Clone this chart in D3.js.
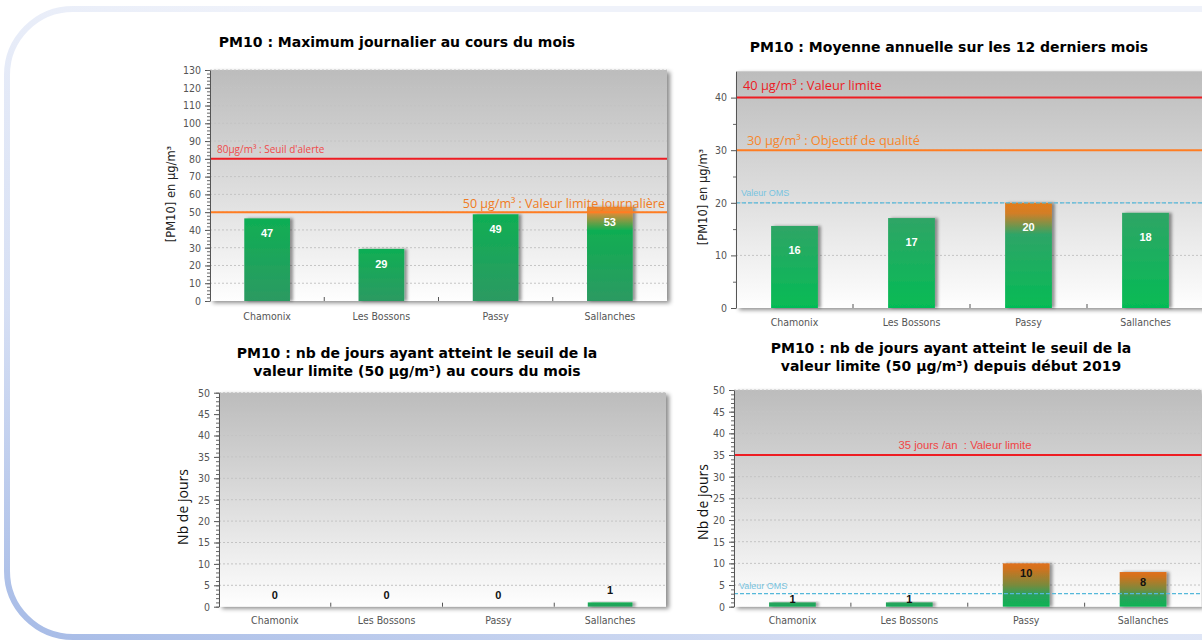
<!DOCTYPE html>
<html><head><meta charset="utf-8">
<script src="https://cdn.jsdelivr.net/npm/d3@7/dist/d3.min.js"></script>
<style>
html,body{margin:0;padding:0;background:#fff;overflow:hidden;}
svg{display:block;}
text{white-space:pre;}
</style></head><body>
<svg id="chart" width="1202" height="641"></svg>
<script>
// ---------------- DATA ----------------
const categories = ["Chamonix", "Les Bossons", "Passy", "Sallanches"];
const maxJournalier = [46.5, 29.3, 48.8, 53];      // µg/m³
const moyenneAnnuelle = [15.6, 17.1, 20, 18.1];    // µg/m³
const joursMois = [0, 0, 0, 1];                    // jours
const joursDepuisDebut = [1, 1, 10, 8];            // jours

const ticksMaxJournalier = d3.range(0, 131, 10);
const ticksMoyenne = [0, 10, 20, 30, 40];
const ticksJours = d3.range(0, 51, 5);

const seuilsMaxValeurs = [80, 50];
const seuilsMaxLabels = ["80µg/m³ : Seuil d'alerte", "50 µg/m³ : Valeur limite journalière"];
const seuilsMoyValeurs = [40, 30, 20];
const seuilsMoyLabels = ["40 µg/m³ : Valeur limite", "30 µg/m³ : Objectif de qualité", "Valeur OMS"];
const seuilsJoursValeurs = [35, 3];
const seuilsJoursLabels = ["35 jours /an  : Valeur limite", "Valeur OMS"];

const titres = [
  ["PM10 : Maximum journalier au cours du mois"],
  ["PM10 : Moyenne annuelle sur les 12 derniers mois"],
  ["PM10 : nb de jours ayant atteint le seuil de la", "valeur limite (50 µg/m³) au cours du mois"],
  ["PM10 : nb de jours ayant atteint le seuil de la", "valeur limite (50 µg/m³) depuis début 2019"]
];
const axeConcentration = "[PM10] en µg/m³";
const axeJours = "Nb de jours";

// ---------------- DRAWING ----------------
const svg = d3.select("#chart");
const defs = svg.append("defs");

function linGrad(id, stops, attrs) {
  const g = defs.append("linearGradient").attr("id", id);
  const a = Object.assign({x1: 0, y1: 0, x2: 0, y2: 1}, attrs || {});
  Object.entries(a).forEach(([k, v]) => g.attr(k, v));
  stops.forEach(([o, c]) => g.append("stop").attr("offset", o).attr("stop-color", c));
}
linGrad("frameGrad", [[0, "#a5bae6"], [0.45, "#d6dff4"], [1, "#eff2fa"]],
  {gradientUnits: "userSpaceOnUse", x1: 0, y1: 641, x2: 250, y2: 0});
linGrad("bgGrad", [[0, "#bcbcbc"], [0.5, "#dcdcdc"], [1, "#fefefe"]]);
linGrad("gA", [[0, "#0fae54"], [1, "#2c9a62"]]);
linGrad("gAx", [[0, "#f0872e"], [0.06, "#e38a36"], [0.25, "#10ad52"], [1, "#2c9a62"]]);
linGrad("gB", [[0, "#2fa566"], [1, "#05bb55"]]);
linGrad("gBx", [[0, "#e47c1c"], [0.1, "#d27e26"], [0.3, "#2ea567"], [1, "#05bb55"]]);
linGrad("gC", [[0, "#14b055"], [1, "#2a9d5e"]]);
linGrad("gD", [[0, "#2ca35e"], [1, "#1aa85a"]]);
linGrad("gDx", [[0, "#e0701a"], [0.12, "#d2721e"], [0.5, "#7a8a3c"], [0.72, "#2aa25c"], [1, "#0db354"]]);

const f1 = defs.append("filter").attr("id", "plotShadow").attr("x", "-5%").attr("y", "-5%").attr("width", "115%").attr("height", "115%");
f1.append("feDropShadow").attr("dx", 3).attr("dy", 2).attr("stdDeviation", 2).attr("flood-color", "#000").attr("flood-opacity", 0.45);
const f2 = defs.append("filter").attr("id", "barShadow").attr("x", "-20%").attr("y", "-10%").attr("width", "160%").attr("height", "130%");
f2.append("feDropShadow").attr("dx", 3).attr("dy", 0).attr("stdDeviation", 1.5).attr("flood-color", "#000").attr("flood-opacity", 0.4);
const f3 = defs.append("filter").attr("id", "axisShadow").attr("x", "-5%").attr("y", "-200%").attr("width", "110%").attr("height", "600%");
f3.append("feDropShadow").attr("dx", 1).attr("dy", 2).attr("stdDeviation", 1.2).attr("flood-color", "#000").attr("flood-opacity", 0.45);

// frame
svg.append("rect").attr("x", 7).attr("y", 9).attr("width", 1500).attr("height", 628).attr("rx", 66)
  .attr("fill", "#fff").attr("stroke", "url(#frameGrad)").attr("stroke-width", 6);

const TICKFONT = "'DejaVu Sans Condensed', 'DejaVu Sans', sans-serif";

function drawChart(o) {
  const g = svg.append("g");
  const x = d3.scaleBand().domain(categories).range([o.x0, o.x1]).paddingInner(0.6).paddingOuter(0.3);
  const y = d3.scaleLinear().domain([0, o.max]).range([o.yBottom, o.yTop]);

  // plot background
  g.append("rect").attr("x", o.x0).attr("y", y(o.max)).attr("width", o.x1 - o.x0)
    .attr("height", y(0) - y(o.max)).attr("fill", "url(#bgGrad)").attr("filter", "url(#plotShadow)");

  // grid
  g.append("g").selectAll("line").data(o.majors.filter(d => d > 0)).join("line")
    .attr("x1", o.x0).attr("x2", o.x1).attr("y1", d => y(d)).attr("y2", d => y(d))
    .attr("stroke", "#c4c4c4").attr("stroke-width", 1).attr("stroke-dasharray", "2,2");

  // bars
  g.append("g").selectAll("rect").data(o.values).join("rect")
    .attr("x", (d, i) => x(categories[i])).attr("width", x.bandwidth())
    .attr("y", d => y(d)).attr("height", d => y(0) - y(d))
    .attr("fill", d => (o.exceed != null && d >= o.exceed) ? `url(#${o.grad}x)` : `url(#${o.grad})`)
    .attr("filter", "url(#barShadow)");

  // reference lines
  o.refs.forEach(r => {
    g.append("line").attr("x1", o.x0).attr("x2", o.x1).attr("y1", y(r.v)).attr("y2", y(r.v))
      .attr("stroke", r.color).attr("stroke-width", r.w).attr("stroke-dasharray", r.dash || null);
    g.append("text").attr("x", r.lx).attr("y", y(r.v) + r.dy).attr("text-anchor", r.anchor || "start")
      .attr("font-family", r.font).attr("font-size", r.size).attr("fill", r.tcolor).text(r.label);
  });

  // left axis (major)
  const ax = g.append("g").attr("transform", `translate(${o.x0},0)`)
    .call(d3.axisLeft(y).tickValues(o.majors).tickSize(5).tickSizeOuter(0).tickPadding(4));
  ax.select(".domain").attr("stroke", "#555");
  ax.selectAll(".tick line").attr("stroke", "#555");
  ax.selectAll(".tick text").attr("font-family", TICKFONT).attr("font-size", 10.5).attr("fill", "#555");
  // minor ticks
  const mi = g.append("g").attr("transform", `translate(${o.x0},0)`)
    .call(d3.axisLeft(y).tickValues(o.minors).tickSize(3).tickFormat(""));
  mi.select(".domain").remove();
  mi.selectAll(".tick line").attr("stroke", "#666");

  // bottom axis
  g.append("line").attr("x1", o.x0).attr("x2", o.x1).attr("y1", y(0)).attr("y2", y(0))
    .attr("stroke", "#4a4a4a").attr("stroke-width", 2).attr("filter", "url(#axisShadow)");
  const bx = g.append("g").attr("transform", `translate(0,${y(0)})`)
    .call(d3.axisBottom(x).tickSize(0).tickPadding(o.xPad));
  bx.select(".domain").remove();
  bx.selectAll(".tick text").attr("font-family", TICKFONT).attr("font-size", 10.5).attr("fill", "#555");
  g.append("g").selectAll("line").data(categories.slice(1)).join("line")
    .attr("x1", d => x(d) - x.step() * 0.3).attr("x2", d => x(d) - x.step() * 0.3)
    .attr("y1", y(0)).attr("y2", y(0) - 4).attr("stroke", "#555");

  // value labels
  g.append("g").selectAll("text").data(o.values).join("text")
    .attr("x", (d, i) => x(categories[i]) + x.bandwidth() / 2)
    .attr("y", d => o.labelY(y(d), y(0) - y(d)))
    .attr("text-anchor", "middle").attr("font-family", "'Liberation Sans', Arial, sans-serif")
    .attr("font-weight", "bold").attr("font-size", 11).attr("fill", o.labelColor)
    .text(d => Math.round(d));

  // title
  const t = g.append("text").attr("text-anchor", "middle").attr("font-family", "'DejaVu Sans', Verdana, sans-serif")
    .attr("font-weight", "bold").attr("font-size", 14).attr("fill", "#000");
  o.title.forEach((line, i) => t.append("tspan").attr("x", o.tx).attr("y", o.ty + i * 17.5).text(line));

  // y label
  g.append("text").attr("transform", `translate(${o.ylx},${o.yly}) rotate(-90)`)
    .attr("text-anchor", "middle").attr("dominant-baseline", "central")
    .attr("font-family", o.ylFont).attr("font-size", o.ylSize).attr("fill", o.ylColor).text(o.yLabel);
}

const OPEN = "'Open Sans', sans-serif";
const LIB = "'Liberation Sans', Arial, sans-serif";

drawChart({
  x0: 210, x1: 667, yTop: 70, yBottom: 301, max: 130,
  majors: ticksMaxJournalier, minors: d3.range(0, 131, 2),
  values: maxJournalier, exceed: seuilsMaxValeurs[1], grad: "gA", labelColor: "#fff",
  labelY: (top, h) => top + 19, xPad: 12,
  refs: [
    {v: seuilsMaxValeurs[0], label: seuilsMaxLabels[0], color: "#ee1d23", w: 2, lx: 217, dy: -6, font: OPEN, size: 10, tcolor: "#f04a4a"},
    {v: seuilsMaxValeurs[1], label: seuilsMaxLabels[1], color: "#ff7d22", w: 2, lx: 665, dy: -4, anchor: "end", font: OPEN, size: 12.5, tcolor: "#f07b22"}
  ],
  title: titres[0], tx: 397, ty: 47,
  yLabel: axeConcentration, ylx: 171, yly: 194, ylFont: "'DejaVu Sans', sans-serif", ylSize: 11.5, ylColor: "#222"
});

drawChart({
  x0: 736, x1: 1204, yTop: 71.3, yBottom: 308, max: 45,
  majors: ticksMoyenne, minors: [5, 15, 25, 35],
  values: moyenneAnnuelle, exceed: seuilsMoyValeurs[2], grad: "gB", labelColor: "#fff",
  labelY: (top, h) => top + 28, xPad: 11,
  refs: [
    {v: seuilsMoyValeurs[0], label: seuilsMoyLabels[0], color: "#ee1d23", w: 2, lx: 743, dy: -8, font: OPEN, size: 12.8, tcolor: "#ec1c24"},
    {v: seuilsMoyValeurs[1], label: seuilsMoyLabels[1], color: "#ff7d22", w: 2, lx: 747, dy: -5, font: OPEN, size: 12.8, tcolor: "#f7862c"},
    {v: seuilsMoyValeurs[2], label: seuilsMoyLabels[2], color: "#55b8da", w: 1.3, dash: "4,2", lx: 741, dy: -7, font: LIB, size: 9, tcolor: "#78c4e0"}
  ],
  title: titres[1], tx: 949, ty: 52,
  yLabel: axeConcentration, ylx: 703, yly: 197, ylFont: "'DejaVu Sans', sans-serif", ylSize: 11.5, ylColor: "#222"
});

drawChart({
  x0: 219, x1: 666, yTop: 392.7, yBottom: 606.7, max: 50,
  majors: ticksJours, minors: d3.range(0, 51, 1),
  values: joursMois, exceed: null, grad: "gC", labelColor: "#111",
  labelY: (top, h) => top - 8, xPad: 10,
  refs: [],
  title: titres[2], tx: 417, ty: 358,
  yLabel: axeJours, ylx: 182, yly: 507, ylFont: OPEN, ylSize: 14, ylColor: "#111"
});

drawChart({
  x0: 734, x1: 1201.5, yTop: 390, yBottom: 606.7, max: 50,
  majors: ticksJours, minors: d3.range(0, 51, 1),
  values: joursDepuisDebut, exceed: seuilsJoursValeurs[1], grad: "gD", labelColor: "#111",
  labelY: (top, h) => h > 20 ? top + 14 : top + 1, xPad: 10,
  refs: [
    {v: seuilsJoursValeurs[0], label: seuilsJoursLabels[0], color: "#ee1d23", w: 2, lx: 965, dy: -6, anchor: "middle", font: LIB, size: 11.3, tcolor: "#f04545"},
    {v: seuilsJoursValeurs[1], label: seuilsJoursLabels[1], color: "#55b8da", w: 1.3, dash: "4,2", lx: 739, dy: -5, font: LIB, size: 9, tcolor: "#78c4e0"}
  ],
  title: titres[3], tx: 951, ty: 353,
  yLabel: axeJours, ylx: 702, yly: 502, ylFont: OPEN, ylSize: 14, ylColor: "#111"
});
</script>
</body></html>
